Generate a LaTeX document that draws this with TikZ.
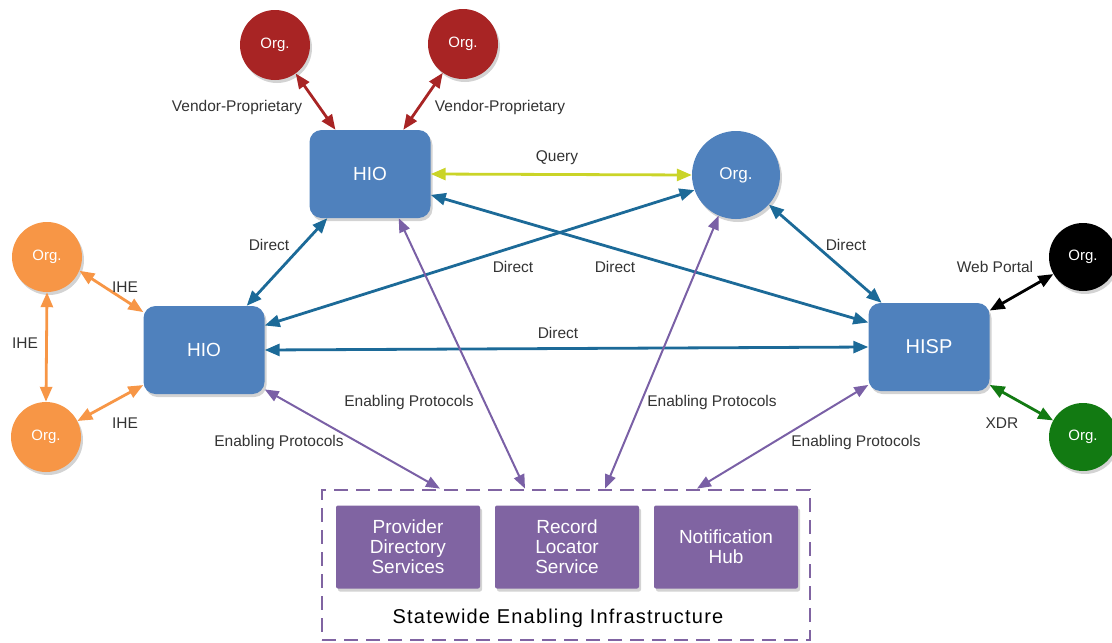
\documentclass[tikz,border=0pt]{standalone}
\usepackage{fontspec}
\setmainfont{Liberation Sans}
\usetikzlibrary{arrows.meta,shadows}

\definecolor{hioblue}{RGB}{79,129,189}
\definecolor{orgred}{RGB}{168,36,36}
\definecolor{orgorange}{RGB}{247,150,70}
\definecolor{orggreen}{RGB}{18,122,18}
\definecolor{boxpurple}{RGB}{128,100,162}
\definecolor{protpurple}{RGB}{122,96,166}
\definecolor{directblue}{RGB}{28,106,152}
\definecolor{queryyellow}{RGB}{202,212,40}

\tikzset{
	shade/.style = {drop shadow = {opacity = 0.35, shadow xshift = 2pt, shadow yshift = -3pt}},
	hio/.style = {fill = hioblue, rounded corners = 12pt, minimum width = 121pt,
				  minimum height = 88pt, text = white, font = \fontsize{19}{21}\selectfont, shade},
	org/.style = {circle, minimum size = 70pt, text = white,
				  font = \fontsize{15}{17}\selectfont, shade},
	svc/.style = {fill = boxpurple, rounded corners = 2pt, minimum width = 144pt,
				  minimum height = 83pt, text = white, align = center,
				  font = \fontsize{19}{20}\selectfont, shade},
	lbl/.style = {font = \fontsize{15.5}{17}\selectfont, text = black!80},
	link/.style = {line width = 2.8pt, {Triangle[length = 15pt, width = 12pt]}-{Triangle[length = 15pt, width = 12pt]}},
	prot/.style = {line width = 2pt, protpurple, {Triangle[length = 14pt, width = 11pt]}-{Triangle[length = 14pt, width = 11pt]}}
}

\begin{document}
\begin{tikzpicture}[x = 1pt, y = -1pt]
	\useasboundingbox (0,0) rectangle (1112,643);

	% hubs
	\node[hio] (hioT) at (370,174) {HIO};
	\node[hio] (hioL) at (204,350) {HIO};
	\node[hio, font = \fontsize{20}{22}\selectfont] (hisp) at (929,347) {HISP};

	% organisations
	\node[org, fill = orgred] (redA) at (275,45) {Org.};
	\node[org, fill = orgred] (redB) at (463,44) {Org.};
	\node[org, fill = hioblue, minimum size = 88pt,
		  font = \fontsize{17}{19}\selectfont] (orgM) at (736,175) {Org.};
	\node[org, fill = orgorange] (ornA) at (47,257) {Org.};
	\node[org, fill = orgorange] (ornB) at (46,437) {Org.};
	\node[org, fill = black, minimum size = 68pt] (blk) at (1083,257) {Org.};
	\node[org, fill = orggreen, minimum size = 68pt] (grn) at (1083,437) {Org.};

	% statewide infrastructure
	\node[draw = boxpurple, line width = 2.8pt, dash pattern = on 14pt off 8pt,
		  minimum width = 488pt, minimum height = 150pt] (sei) at (566,565) {};
	\node[svc] (pds) at (408,547) {Provider\\Directory\\Services};
	\node[svc] (rls) at (567,547) {Record\\Locator\\Service};
	\node[svc] (nhub) at (726,547) {Notification\\Hub};
	\node[font = \fontsize{20}{22}\selectfont\addfontfeature{LetterSpace = 6}]
		(seiName) at (558,618) {Statewide Enabling Infrastructure};

	% vendor links
	\draw[link, orgred] (redA.-54) -- (hioT.128.5);
	\draw[link, orgred] (redB.-125) -- (hioT.53);
	\node[lbl] (vpA) at (237,107) {Vendor-Proprietary};
	\node[lbl] (vpB) at (500,107) {Vendor-Proprietary};

	% query
	\draw[link, queryyellow] (hioT.0) -- (orgM.180);
	\node[lbl] (qry) at (557,158) {Query};

	% direct links
	\draw[link, directblue] (hioT.-134) -- (hioL.46);
	\draw[link, directblue] (hioT.-19) -- (hisp.158);
	\draw[link, directblue] (orgM.200) -- (hioL.22);
	\draw[link, directblue] (orgM.-42) -- (hisp.137);
	\draw[link, directblue] (hioL.0) -- (hisp.180);
	\node[lbl] (dA) at (269,245) {Direct};
	\node[lbl] (dB) at (513,267) {Direct};
	\node[lbl] (dC) at (615,267) {Direct};
	\node[lbl] (dD) at (846,245) {Direct};
	\node[lbl] (dE) at (558,333) {Direct};

	% IHE
	\draw[link, orgorange] (ornA.-23) -- (hioL.148);
	\draw[link, orgorange] (ornB.27) -- (hioL.-150);
	\draw[link, orgorange] (ornA.-90) -- (ornB.90);
	\node[lbl] (iA) at (125,287) {IHE};
	\node[lbl] (iB) at (25,343) {IHE};
	\node[lbl] (iC) at (125,423) {IHE};

	% HISP partners
	\draw[link, black] (hisp.31) -- (blk.210);
	\draw[link, orggreen] (hisp.-32) -- (grn.151);
	\node[lbl] (web) at (995,267) {Web Portal};
	\node[lbl] (xdr) at (1002,423) {XDR};

	% enabling protocols
	\draw[prot] (hioL.-33) -- ([xshift = -126pt]sei.north);
	\draw[prot] (hioT.-57) -- ([xshift = -41pt]sei.north);
	\draw[prot] (orgM.-113) -- ([xshift = 39pt]sei.north);
	\draw[prot] (hisp.-148) -- ([xshift = 131pt]sei.north);
	\node[lbl] (epA) at (279,442) {Enabling Protocols};
	\node[lbl] (epB) at (409,402) {Enabling Protocols};
	\node[lbl] (epC) at (712,402) {Enabling Protocols};
	\node[lbl] (epD) at (856,442) {Enabling Protocols};
\end{tikzpicture}
\end{document}
